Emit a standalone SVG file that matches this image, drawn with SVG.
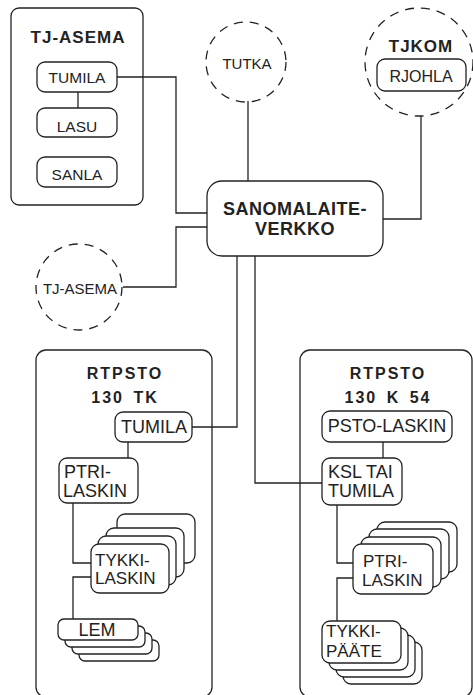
<svg xmlns="http://www.w3.org/2000/svg" width="473" height="695" viewBox="0 0 473 695">
<style>
.b{fill:#fff;stroke:#222;stroke-width:1.3}
.d{fill:none;stroke:#222;stroke-width:1.3;stroke-dasharray:9 7}
.c{fill:none;stroke:#222;stroke-width:1.3}
text{font-family:"Liberation Sans",Arial,sans-serif;fill:#222}
.t{font-size:17px;font-weight:bold;letter-spacing:1px;text-anchor:middle}
.h{font-size:16px;font-weight:bold;letter-spacing:2px;word-spacing:3px;text-anchor:middle}
.s{font-size:15.5px;text-anchor:middle}
.m{font-size:18px;text-anchor:middle}
.l{font-size:18px}
.k{font-size:17px}
</style>
<rect width="473" height="695" fill="#fff"/>
<g id="connectors" class="c">
<polyline points="117,77 176,77 176,213 207,213"/>
<polyline points="207,227 176,227 176,287 123,287"/>
<line x1="248" y1="101" x2="248" y2="181"/>
<polyline points="383,219 421,219 421,116"/>
<polyline points="237,256 237,427 192,427"/>
<polyline points="255,256 255,483 322,483"/>
<line x1="78" y1="92" x2="78" y2="108"/>
<line x1="128" y1="442" x2="128" y2="458"/>
<polyline points="73,503 73,563 91,563"/>
<polyline points="91,577 73,577 73,619"/>
<line x1="383" y1="442" x2="383" y2="458"/>
<polyline points="337,505 337,563 353,563"/>
<polyline points="353,578 337,578 337,621"/>
</g>
<g id="tj-asema-box">
<rect class="b" x="11" y="8" width="132" height="197" rx="8" style="fill:none"/>
<text class="t" x="78" y="43">TJ-ASEMA</text>
</g>
<g id="tumila1"><rect class="b" x="37" y="62" width="80" height="30" rx="8"/><text class="s" x="77" y="83">TUMILA</text></g>
<g id="lasu"><rect class="b" x="37" y="108" width="80" height="29" rx="8"/><text class="s" x="77" y="132">LASU</text></g>
<g id="sanla"><rect class="b" x="37" y="157" width="80" height="30" rx="8"/><text class="s" x="77" y="180">SANLA</text></g>
<g id="tutka"><circle class="d" cx="246" cy="62" r="40"/><text class="s" x="247" y="69" style="font-size:15px">TUTKA</text></g>
<g id="tjkom">
<circle class="d" cx="419" cy="62" r="54"/>
<text class="t" x="421" y="52">TJKOM</text>
<rect class="b" x="377" y="59" width="89" height="32" rx="8"/>
<text class="s" x="421" y="82" style="font-size:16px">RJOHLA</text>
</g>
<g id="sanomalaiteverkko">
<rect class="b" x="207" y="181" width="176" height="75" rx="15"/>
<text class="t" x="295" y="215" style="font-size:18px;letter-spacing:0.5px">SANOMALAITE-</text>
<text class="t" x="295" y="235" style="font-size:18px;letter-spacing:0.5px">VERKKO</text>
</g>
<g id="tj-asema2"><circle class="d" cx="79" cy="287" r="43"/><text class="s" x="80" y="294" style="font-size:15px">TJ-ASEMA</text></g>
<g id="rtpsto-tk">
<rect class="b" x="36" y="350" width="176" height="347" rx="10" style="fill:none"/>
<text class="h" x="125" y="379">RTPSTO</text>
<text class="h" x="125" y="403">130 TK</text>
</g>
<g id="tumila2"><rect class="b" x="115" y="412" width="77" height="30" rx="8"/><text class="m" x="154" y="433">TUMILA</text></g>
<g id="ptri1"><rect class="b" x="59" y="458" width="79" height="45" rx="8"/><text class="l" x="64" y="478">PTRI-</text><text class="l" x="63" y="497">LASKIN</text></g>
<g id="tykki-laskin">
<rect class="b" x="117" y="514" width="78" height="49" rx="8"/>
<rect class="b" x="106" y="528" width="78" height="49" rx="8"/>
<rect class="b" x="98" y="536" width="78" height="49" rx="8"/>
<rect class="b" x="91" y="544" width="78" height="49" rx="8"/>
<text class="k" x="95" y="566">TYKKI-</text>
<text class="k" x="95" y="584">LASKIN</text>
</g>
<g id="lem">
<rect class="b" x="79" y="640" width="80" height="21" rx="6"/>
<rect class="b" x="72" y="633" width="80" height="21" rx="6"/>
<rect class="b" x="65" y="626" width="80" height="21" rx="6"/>
<rect class="b" x="58" y="619" width="80" height="21" rx="6"/>
<text class="m" x="97" y="636">LEM</text>
</g>
<g id="rtpsto-k54">
<rect class="b" x="300" y="350" width="172" height="347" rx="10" style="fill:none"/>
<text class="h" x="388" y="379">RTPSTO</text>
<text class="h" x="388" y="403">130 K 54</text>
</g>
<g id="psto-laskin"><rect class="b" x="322" y="411" width="130" height="31" rx="8"/><text class="m" x="387" y="432">PSTO-LASKIN</text></g>
<g id="ksl"><rect class="b" x="322" y="458" width="80" height="47" rx="8"/><text class="l" x="328" y="478">KSL TAI</text><text class="l" x="328" y="497">TUMILA</text></g>
<g id="ptri2">
<rect class="b" x="377" y="522" width="80" height="50" rx="8"/>
<rect class="b" x="369" y="529" width="80" height="50" rx="8"/>
<rect class="b" x="361" y="537" width="80" height="50" rx="8"/>
<rect class="b" x="353" y="544" width="80" height="50" rx="8"/>
<text class="k" x="363" y="567">PTRI-</text>
<text class="k" x="362" y="586">LASKIN</text>
</g>
<g id="tykki-paate">
<rect class="b" x="343" y="642" width="79" height="42" rx="8"/>
<rect class="b" x="336" y="635" width="79" height="42" rx="8"/>
<rect class="b" x="329" y="628" width="79" height="42" rx="8"/>
<rect class="b" x="322" y="621" width="79" height="42" rx="8"/>
<text class="k" x="326" y="637">TYKKI-</text>
<text class="k" x="326" y="657">PÄÄTE</text>
</g>
</svg>
